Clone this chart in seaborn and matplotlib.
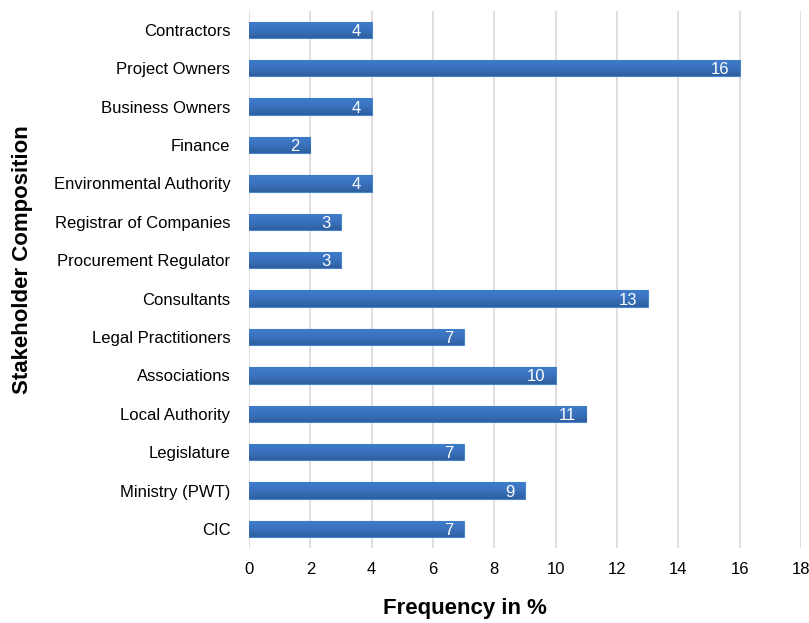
import matplotlib
matplotlib.use("Agg")
import matplotlib.pyplot as plt
import seaborn as sns
import pandas as pd
import numpy as np
from matplotlib.colors import LinearSegmentedColormap

categories = ["Contractors", "Project Owners", "Business Owners", "Finance",
              "Environmental Authority", "Registrar of Companies",
              "Procurement Regulator", "Consultants", "Legal Practitioners",
              "Associations", "Local Authority", "Legislature",
              "Ministry (PWT)", "CIC"]
values = [4, 16, 4, 2, 4, 3, 3, 13, 7, 10, 11, 7, 9, 7]
xticks = [0, 2, 4, 6, 8, 10, 12, 14, 16, 18]

sns.set_theme(style="white")
plt.rcParams['font.family'] = ['Liberation Sans', 'DejaVu Sans']
plt.rcParams['text.color'] = 'black'
plt.rcParams['axes.labelcolor'] = 'black'
plt.rcParams['xtick.color'] = 'black'
plt.rcParams['ytick.color'] = 'black'

df = pd.DataFrame({"cat": categories, "val": values})

fig = plt.figure(figsize=(8.09, 6.23), dpi=100)
ax = fig.add_axes([0.3078, 0.120, 0.6822, 0.863])

sns.barplot(data=df, x="val", y="cat", orient="h", color="#3A6FB8",
            width=0.43, saturation=1, ax=ax, edgecolor="#4A84CE", linewidth=0.8,
            zorder=3)

# vertical gradient fill inside each bar
grad = np.linspace(0, 1, 64).reshape(-1, 1)
cmap = LinearSegmentedColormap.from_list("g", ["#3F7DCB", "#3A72BE", "#2F609F"])
for p in ax.patches:
    x0, y0 = p.get_x(), p.get_y()
    w, h = p.get_width(), p.get_height()
    im = ax.imshow(grad, cmap=cmap, aspect="auto",
                   extent=[x0, x0 + w, y0 + h, y0], origin="upper", zorder=3.5)
    im.set_clip_path(p)
ax.set_xlim(0, 18)
ax.set_ylim(13.5, -0.5)

ax.set_xticks(xticks)
ax.set_xticklabels([str(t) for t in xticks], fontsize=12)
ax.tick_params(axis="y", labelsize=12, length=0, pad=13.5)
ax.tick_params(axis="x", length=0, pad=10)
ax.xaxis.grid(True, color="#D9D9D9", linewidth=1.2, zorder=0)
ax.set_axisbelow(True)
for s in ax.spines.values():
    s.set_visible(False)

for i, v in enumerate(values):
    ax.text(v - 0.35, i, str(v), color="white", fontsize=12,
            ha="right", va="center_baseline", zorder=5)

ax.set_xlabel("Frequency in %", fontsize=16, fontweight="bold")
ax.set_ylabel("Stakeholder Composition", fontsize=16, fontweight="bold")
ax.xaxis.set_label_coords(0.391, -0.093)
ax.yaxis.set_label_coords(-0.391, 0.536)

fig.savefig("out.png", dpi=100)
